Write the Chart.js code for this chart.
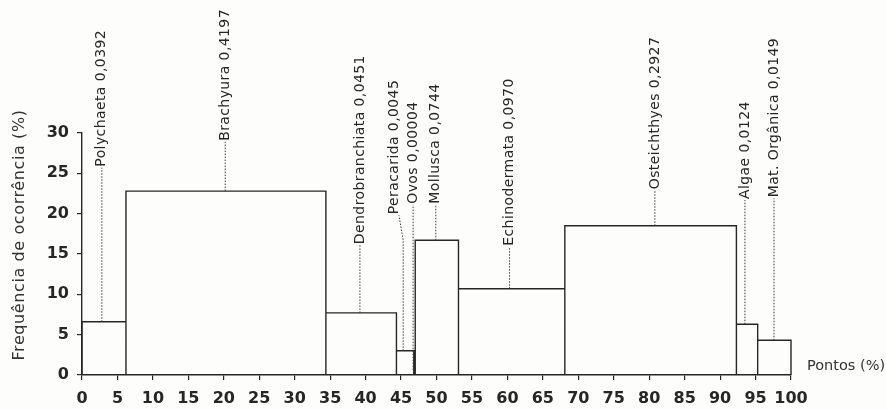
<!DOCTYPE html>
<html>
<head>
<meta charset="utf-8">
<script src="https://cdn.jsdelivr.net/npm/chart.js@4.4.1/dist/chart.umd.min.js"></script>
<style>
  html, body { margin: 0; padding: 0; background: #fdfdfb; }
  #wrap { width: 886px; height: 410px; }
</style>
</head>
<body>
<div id="wrap"><canvas id="c" width="886" height="410"></canvas></div>
<script>
// ---- data ----
const categories = ['Polychaeta', 'Brachyura', 'Dendrobranchiata', 'Peracarida', 'Ovos',
  'Mollusca', 'Echinodermata', 'Osteichthyes', 'Algae', 'Mat. Orgânica'];
const indexValues = ['0,0392', '0,4197', '0,0451', '0,0045', '0,00004',
  '0,0744', '0,0970', '0,2927', '0,0124', '0,0149'];
const pointsStart = [0, 6.2, 34.4, 44.35, 46.8, 47.0, 53.1, 68.1, 92.3, 95.3];
const pointsEnd   = [6.2, 34.4, 44.35, 46.8, 47.0, 53.1, 68.1, 92.3, 95.3, 100];
const frequency   = [6.6, 22.8, 7.7, 3.0, 0.6, 16.7, 10.7, 18.5, 6.3, 4.3];
const xTickValues = [0, 5, 10, 15, 20, 25, 30, 35, 40, 45, 50, 55, 60, 65, 70, 75, 80, 85, 90, 95, 100];
const yTickValues = [0, 5, 10, 15, 20, 25, 30];

// ---- label placement (layout, in axis units) ----
const labelLeaderX = [2.8, 20.2, 39.2, 45.3, 46.7, 49.9, 60.3, 80.8, 93.5, 97.6];
const labelBaseY   = [25.7, 28.9, 16.1, 19.8, 21.1, 21.1, 15.9, 22.9, 21.7, 21.9];
const labelBend = { 3: { textX: 44.0, fromX: 44.7, bendY: 16.7 } };

// outline of the variable-width bars
const outline = [];
for (let i = 0; i < categories.length; i++) {
  outline.push({ x: pointsStart[i], y: 0 });
  outline.push({ x: pointsStart[i], y: frequency[i] });
  outline.push({ x: pointsEnd[i], y: frequency[i] });
  outline.push({ x: pointsEnd[i], y: 0 });
}

const INK = '#262626';
const TICK_FONT = { family: 'DejaVu Sans', size: 16, weight: 'bold' };
const LABEL_FONT = '14px "DejaVu Sans"';

const bgPlugin = {
  id: 'bg',
  beforeDraw(chart) {
    const { ctx } = chart;
    ctx.save();
    ctx.fillStyle = '#fdfdfb';
    ctx.fillRect(0, 0, chart.width, chart.height);
    ctx.restore();
  }
};

const labelPlugin = {
  id: 'costelloLabels',
  afterDatasetsDraw(chart) {
    const { ctx, scales: { x, y }, chartArea } = chart;
    ctx.save();
    for (let i = 0; i < categories.length; i++) {
      const lx = x.getPixelForValue(labelLeaderX[i]);
      const top = y.getPixelForValue(frequency[i]);
      const base = y.getPixelForValue(labelBaseY[i]);
      const bend = labelBend[i];
      ctx.strokeStyle = '#3a3a3a';
      ctx.lineWidth = 1;
      ctx.setLineDash([1.5, 1.5]);
      ctx.beginPath();
      ctx.moveTo(lx, top);
      let tx = lx;
      if (bend) {
        const by = y.getPixelForValue(bend.bendY);
        ctx.lineTo(lx, by);
        ctx.lineTo(x.getPixelForValue(bend.fromX), base);
        tx = x.getPixelForValue(bend.textX);
      } else {
        ctx.lineTo(lx, base);
      }
      ctx.stroke();
      ctx.setLineDash([]);
      ctx.save();
      ctx.translate(tx, base - 1);
      ctx.rotate(-Math.PI / 2);
      ctx.font = LABEL_FONT;
      ctx.letterSpacing = '0.4px';
      ctx.fillStyle = INK;
      ctx.textAlign = 'left';
      ctx.textBaseline = 'middle';
      ctx.fillText(categories[i] + ' ' + indexValues[i], 0, 0);
      ctx.restore();
    }
    // axis titles
    ctx.fillStyle = '#333';
    ctx.font = '14.5px "DejaVu Sans"';
    ctx.textAlign = 'left';
    ctx.textBaseline = 'middle';
    ctx.fillText('Pontos (%)', chartArea.right + 16, chartArea.bottom - 9);
    ctx.save();
    ctx.translate(chartArea.left - 62, chartArea.top + 102);
    ctx.rotate(-Math.PI / 2);
    ctx.font = '16px "DejaVu Sans"';
    ctx.letterSpacing = '0.6px';
    ctx.textAlign = 'center';
    ctx.fillText('Frequência de ocorrência (%)', 0, 0);
    ctx.restore();
    ctx.restore();
  }
};

new Chart(document.getElementById('c'), {
  type: 'line',
  data: {
    datasets: [{
      data: outline,
      borderColor: INK,
      borderWidth: 1.4,
      pointRadius: 0,
      tension: 0,
      fill: false,
      clip: false
    }]
  },
  options: {
    responsive: false,
    animation: false,
    devicePixelRatio: 1,
    layout: { padding: { left: 0, right: 95, top: 133, bottom: 0 } },
    plugins: { legend: { display: false }, tooltip: { enabled: false } },
    scales: {
      x: {
        type: 'linear',
        min: 0, max: 100,
        afterBuildTicks(scale) { scale.ticks = xTickValues.map(v => ({ value: v })); },
        afterFit(scale) { scale.height = 35; },
        ticks: { color: INK, font: TICK_FONT, padding: 9, maxRotation: 0, autoSkip: false },
        grid: { drawOnChartArea: false, tickLength: 5, color: INK, lineWidth: 1.2 },
        border: { color: INK, width: 1.4 }
      },
      y: {
        type: 'linear',
        min: 0, max: 30,
        afterBuildTicks(scale) { scale.ticks = yTickValues.map(v => ({ value: v })); },
        afterFit(scale) { scale.width = 82; },
        ticks: { color: INK, font: TICK_FONT, padding: 8 },
        grid: { drawOnChartArea: false, tickLength: 5, color: INK, lineWidth: 1.2 },
        border: { color: INK, width: 1.4 }
      }
    }
  },
  plugins: [bgPlugin, labelPlugin]
});
</script>
</body>
</html>
